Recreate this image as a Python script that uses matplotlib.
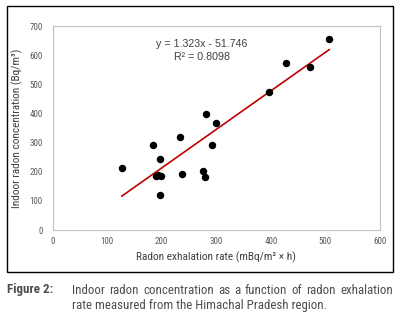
import matplotlib.pyplot as plt
from matplotlib.patches import Rectangle

# values
exhalation = [507, 428, 472, 397, 281, 299, 234, 185, 292, 127, 197,
              237, 276, 280, 190, 194, 198, 197]
concentration = [656, 573, 559, 473, 397, 366, 318, 293, 293, 214, 244,
                 191, 203, 182, 184, 188, 187, 121]
slope = 1.323
intercept = -51.746
r_squared = 0.8098
x_ticks = [0, 100, 200, 300, 400, 500, 600]
y_ticks = [0, 100, 200, 300, 400, 500, 600, 700]
caption_lines = ['Indoor radon concentration as a function of radon exhalation',
                 'rate measured from the Himachal Pradesh region.']

narrow = ['Roboto Condensed', 'Archivo Narrow', 'DejaVu Sans']
regular = ['Liberation Sans', 'DejaVu Sans']


def justify(fig, text, left, right, y, **kw):
    """place the words of one caption line so they fill left..right (pixels)"""
    words = text.split()
    r = fig.canvas.get_renderer()
    items = [fig.text(0, y, w, va='center', **kw) for w in words]
    widths = [t.get_window_extent(r).width for t in items]
    gap = (right - left - sum(widths)) / (len(words) - 1)
    x = left
    for t, w in zip(items, widths):
        t.set_x(x / 415)
        x += w + gap


def show_graph():
    fig = plt.figure(figsize=(4.15, 3.28), dpi=100)

    # black frame round the chart
    fig.patches.append(Rectangle((7 / 415, 1 - 272 / 328), 386 / 415, 266 / 328,
                                 transform=fig.transFigure, fill=False,
                                 edgecolor='black', linewidth=1.0))

    ax = fig.add_axes([52.5 / 415, 1 - 230 / 328, 327.5 / 415, 204 / 328])
    ax.scatter(exhalation, concentration, s=19, color='black', zorder=3)

    x_line = [min(exhalation), max(exhalation)]
    y_line = [slope * x + intercept for x in x_line]
    ax.plot(x_line, y_line, color='#c00000', linewidth=1.2, zorder=2)

    ax.set_xlim(0, 600)
    ax.set_ylim(0, 700)
    ax.set_xticks(x_ticks)
    ax.set_yticks(y_ticks)
    for spine in ax.spines.values():
        spine.set_color('#bfbfbf')
        spine.set_linewidth(0.8)
    ax.tick_params(length=0, labelsize=6.5, labelcolor='#595959')
    ax.tick_params(axis='x', pad=5)
    ax.tick_params(axis='y', pad=7)
    for lab in ax.get_xticklabels() + ax.get_yticklabels():
        lab.set_family(narrow)

    ax.set_xlabel('Radon exhalation rate (mBq/m² × h)', fontsize=8.2,
                  color='#404040', family=narrow, labelpad=4)
    ax.set_ylabel('Indoor radon concentration (Bq/m³)', fontsize=8.2,
                  color='#404040', family=narrow, labelpad=5)

    ax.text(274, 639, f'y = {slope}x - {abs(intercept)}', ha='center', va='center',
            fontsize=7.7, color='#404040', family=regular)
    ax.text(274, 594, f'R² = {r_squared}', ha='center', va='center',
            fontsize=7.7, color='#404040', family=regular)

    fig.text(7 / 415, 1 - 290 / 328, 'Figure 2:', fontsize=9.4, fontweight='bold',
             color='#4d4d4d', family=narrow, va='center')
    justify(fig, caption_lines[0], 72, 393, 1 - 290 / 328, fontsize=9.3,
            color='#4d4d4d', family=narrow)
    fig.text(72 / 415, 1 - 305 / 328, caption_lines[1], fontsize=9.3,
             color='#4d4d4d', family=narrow, va='center')

    fig.savefig('out.png', dpi=100)


if __name__ == "__main__":
    show_graph()
